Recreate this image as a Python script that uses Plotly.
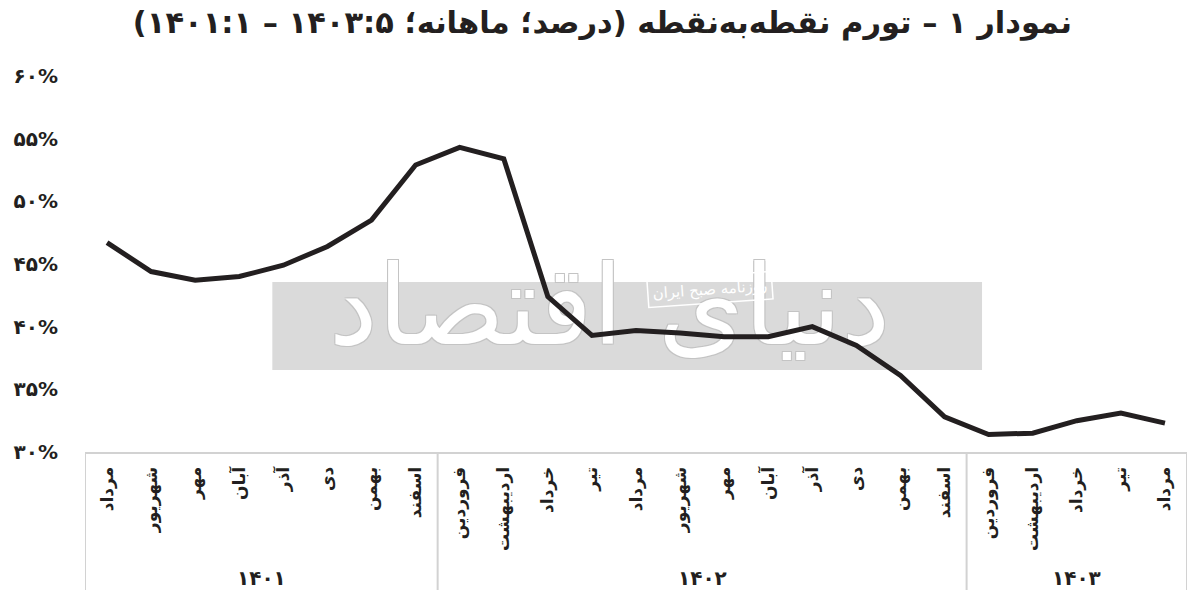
import plotly.graph_objects as go

# ---------------- data ----------------
years = ["۱۴۰۱", "۱۴۰۲", "۱۴۰۳"]
months_1401 = ["مرداد", "شهریور", "مهر", "آبان", "آذر", "دی", "بهمن", "اسفند"]
months_1402 = ["فروردین", "اردیبهشت", "خرداد", "تیر", "مرداد", "شهریور",
               "مهر", "آبان", "آذر", "دی", "بهمن", "اسفند"]
months_1403 = ["فروردین", "اردیبهشت", "خرداد", "تیر", "مرداد"]

inflation_1401 = [46.7, 44.4, 43.7, 44.0, 44.9, 46.4, 48.5, 52.9]
inflation_1402 = [54.3, 53.4, 42.4, 39.3, 39.7, 39.5, 39.2, 39.2, 40.0, 38.5, 36.1, 32.8]
inflation_1403 = [31.4, 31.5, 32.5, 33.1, 32.3]

y_tick_values = [30, 35, 40, 45, 50, 55, 60]
y_tick_labels = ["۳۰%", "۳۵%", "۴۰%", "۴۵%", "۵۰%", "۵۵%", "۶۰%"]

title_text = "نمودار ۱ – تورم نقطه‌به‌نقطه (درصد؛ ماهانه؛ ۱۴۰۳:۵ – ۱۴۰۱:۱)"
watermark_big = "دنیای اقتصاد"
watermark_small = "روزنامه صبح ایران"

# ---------------- build ----------------
groups = [months_1401, months_1402, months_1403]
values = inflation_1401 + inflation_1402 + inflation_1403
months = months_1401 + months_1402 + months_1403
xs = list(range(len(values)))

FONT = "DejaVu Sans"
INK = "#231f20"
GRID = "#d2d2d2"

x_range = [-0.5, len(values) - 0.5]
y_range = [y_tick_values[0], y_tick_values[-1]]

fig = go.Figure()

# watermark big text (decoration), placed by fraction of the plot area, drawn beneath the line
wm_fx, wm_fy = 0.476, 0.36
fig.add_trace(go.Scatter(
    x=[x_range[0] + wm_fx * (x_range[1] - x_range[0])],
    y=[y_range[0] + wm_fy * (y_range[1] - y_range[0])],
    mode="text", text=[watermark_big],
    textfont=dict(family=FONT, size=110, color="white",
                  shadow="1px 1px 0 #c4c4c4, -1px -1px 0 #c4c4c4, 1px -1px 0 #c4c4c4, -1px 1px 0 #c4c4c4"),
    hoverinfo="skip", showlegend=False,
))

fig.add_trace(go.Scatter(
    x=xs, y=values, mode="lines",
    line=dict(color=INK, width=5),
    showlegend=False, hoverinfo="skip",
))

shapes = []
# watermark grey band
shapes.append(dict(type="rect", xref="paper", yref="paper",
                   x0=0.170, x1=0.814, y0=0.218, y1=0.452,
                   fillcolor="#dadada", line=dict(width=0), layer="below"))

# table dividers at group boundaries
bounds = [-0.5]
for g in groups:
    bounds.append(bounds[-1] + len(g))
for b in bounds:
    shapes.append(dict(type="line", xref="x", yref="paper",
                       x0=b, x1=b, y0=0, y1=-0.367,
                       line=dict(color=GRID, width=2)))

annotations = []
for i, (yr, g) in enumerate(zip(years, groups)):
    center = (bounds[i] + bounds[i + 1]) / 2
    annotations.append(dict(x=center, y=-0.335, xref="x", yref="paper",
                            text="<b>" + yr + "</b>", showarrow=False,
                            font=dict(family=FONT, size=20, color=INK),
                            xanchor="center", yanchor="middle"))

annotations.append(dict(x=0.567, y=0.431, xref="paper", yref="paper",
                        text=watermark_small, showarrow=False, textangle=-4,
                        font=dict(family=FONT, size=15, color="white"),
                        bordercolor="white", borderwidth=1.5, borderpad=4))

fig.update_layout(
    width=1200, height=596,
    margin=dict(l=85, r=13, t=76, b=144),
    paper_bgcolor="white", plot_bgcolor="white",
    title=dict(text="<b>\u202b" + title_text + "\u202c</b>", x=0.502, xanchor="center",
               y=0.962, yanchor="middle", yref="container",
               font=dict(family=FONT, size=30.5, color=INK)),
    xaxis=dict(range=x_range, tickmode="array",
               tickvals=xs, ticktext=["<b>" + m + "</b>" for m in months],
               tickangle=-90, ticks="", showgrid=False, zeroline=False,
               showline=True, linecolor=GRID, linewidth=2,
               ticklabelstandoff=6,
               tickfont=dict(family=FONT, size=17, color=INK)),
    yaxis=dict(range=y_range, tickmode="array", tickvals=y_tick_values,
               ticktext=["<b>" + t + "</b>" for t in y_tick_labels],
               ticks="", showgrid=False, zeroline=False, showline=False,
               ticklabelstandoff=26,
               tickfont=dict(family=FONT, size=20, color=INK)),
    shapes=shapes, annotations=annotations,
    hovermode=False,
)

fig.write_html("out.html", config={"displayModeBar": False},
               post_script="document.body.style.margin='0';")
